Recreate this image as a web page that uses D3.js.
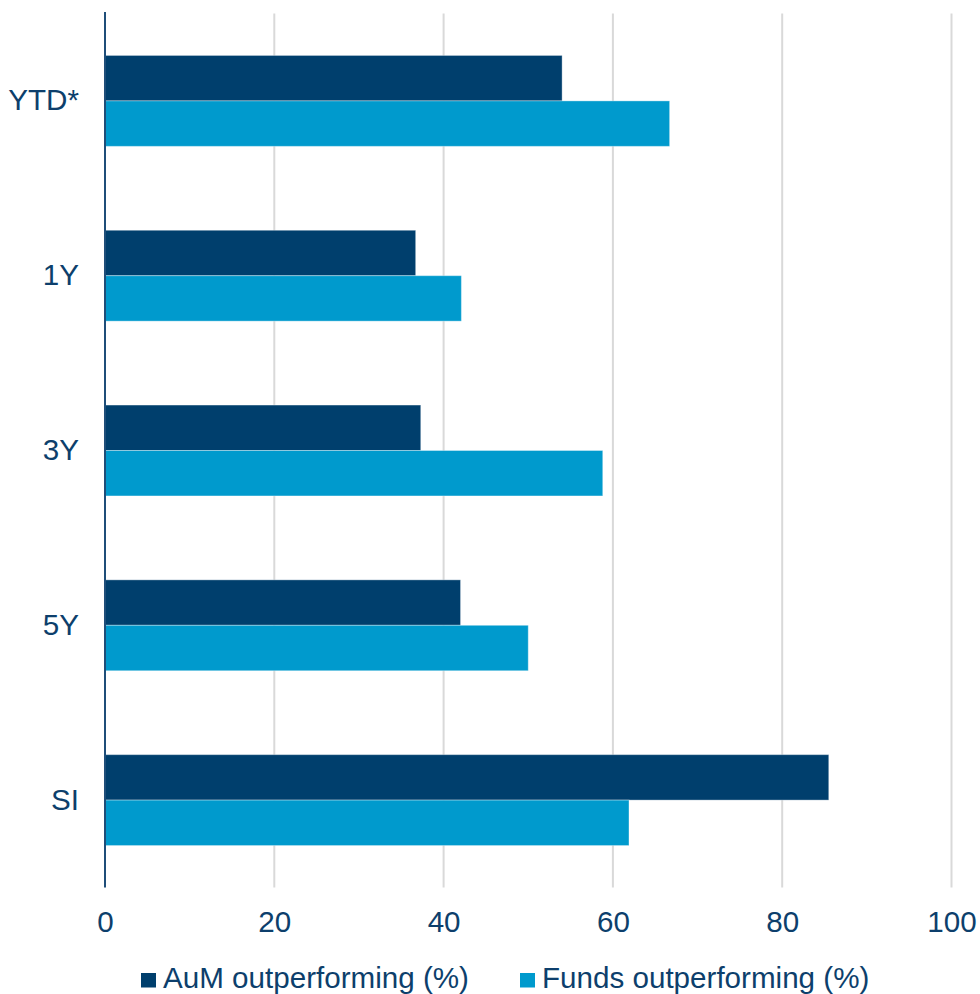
<!DOCTYPE html>
<html>
<head>
<meta charset="utf-8">
<script src="https://cdn.jsdelivr.net/npm/d3@7"></script>
<style>
  html, body { margin: 0; padding: 0; background: #ffffff; }
  svg { display: block; }
</style>
</head>
<body>
<div id="chart"></div>
<script>
// Periods shown on the vertical axis
const categories = ["YTD*", "1Y", "3Y", "5Y", "SI"];
// Share of AuM outperforming, per period (%)
const aumOutperforming = [54.0, 36.7, 37.3, 42.0, 85.5];
// Share of funds outperforming, per period (%)
const fundsOutperforming = [66.7, 42.1, 58.8, 50.0, 61.9];
// Horizontal axis ticks
const xTicks = [0, 20, 40, 60, 80, 100];
const seriesNames = ["AuM outperforming (%)", "Funds outperforming (%)"];
const seriesKeys = ["aum", "funds"];

const data = categories.map((c, i) => ({
  category: c,
  aum: aumOutperforming[i],
  funds: fundsOutperforming[i]
}));

const width = 980, height = 994;
const margin = { top: 13.5, right: 28.5, bottom: 106.5, left: 105 };

const colors = { aum: "#003f6d", funds: "#009acd" };
const textColor = "#0d3f6c";
const font = "'Liberation Sans', Arial, sans-serif";
const fontSize = "29.6px";

const svg = d3.select("#chart").append("svg")
  .attr("width", width)
  .attr("height", height);

const x = d3.scaleLinear()
  .domain([0, 100])
  .range([margin.left, width - margin.right]);

const y = d3.scaleBand()
  .domain(categories)
  .range([margin.top, height - margin.bottom])
  .paddingInner(0.48)
  .paddingOuter(0.24);

const ySub = d3.scaleBand()
  .domain(seriesKeys)
  .range([0, y.bandwidth()]);

// Vertical gridlines
svg.append("g")
  .selectAll("line")
  .data(xTicks.filter(t => t > 0))
  .join("line")
  .attr("x1", d => x(d)).attr("x2", d => x(d))
  .attr("y1", margin.top).attr("y2", height - margin.bottom)
  .attr("stroke", "#d9d9d9")
  .attr("stroke-width", 2);

// Bars
const groups = svg.append("g")
  .selectAll("g")
  .data(data)
  .join("g")
  .attr("transform", d => `translate(0,${y(d.category)})`);

groups.selectAll("rect")
  .data(d => seriesKeys.map(k => ({ key: k, value: d[k] })))
  .join("rect")
  .attr("x", x(0))
  .attr("y", d => ySub(d.key))
  .attr("width", d => x(d.value) - x(0))
  .attr("height", ySub.bandwidth())
  .attr("fill", d => colors[d.key])
  .attr("stroke", "rgba(255,255,255,0.35)")
  .attr("stroke-width", 1);

// X axis labels
const xAxis = d3.axisBottom(x).tickValues(xTicks).tickSize(0).tickPadding(23);
const gx = svg.append("g")
  .attr("transform", `translate(0,${height - margin.bottom})`)
  .call(xAxis);
gx.select(".domain").remove();
gx.selectAll("text")
  .attr("fill", textColor)
  .attr("font-family", font)
  .attr("font-size", fontSize);

// Y axis (category labels and baseline)
const yAxis = d3.axisLeft(y).tickSize(0).tickPadding(26);
const gy = svg.append("g")
  .attr("transform", `translate(${margin.left},0)`)
  .call(yAxis);
gy.select(".domain").remove();
gy.selectAll("text")
  .attr("fill", textColor)
  .attr("font-family", font)
  .attr("font-size", fontSize);

svg.append("line")
  .attr("x1", x(0)).attr("x2", x(0))
  .attr("y1", 12).attr("y2", height - margin.bottom)
  .attr("stroke", "#1f4e79")
  .attr("stroke-width", 2);

// Legend
const legendX = [141, 520];
const legend = svg.append("g")
  .selectAll("g")
  .data(seriesKeys)
  .join("g")
  .attr("transform", (d, i) => `translate(${legendX[i]},973)`);

legend.append("rect")
  .attr("width", 15).attr("height", 14.5)
  .attr("fill", d => colors[d]);

legend.append("text")
  .attr("x", 22)
  .attr("y", 15)
  .attr("fill", textColor)
  .attr("font-family", font)
  .attr("font-size", fontSize)
  .text((d, i) => seriesNames[i]);
</script>
</body>
</html>
